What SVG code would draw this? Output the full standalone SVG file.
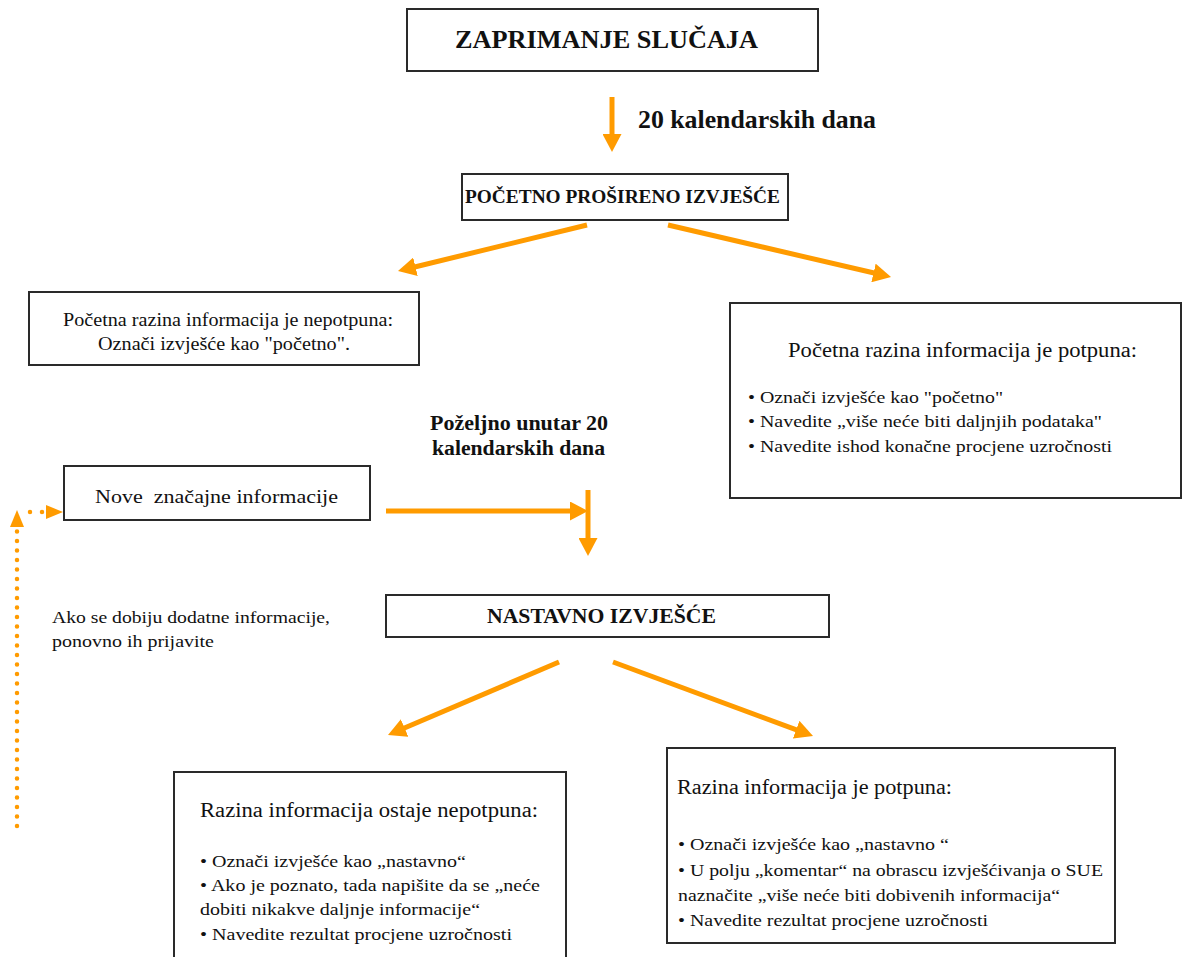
<svg xmlns="http://www.w3.org/2000/svg" width="1187" height="957" viewBox="0 0 1187 957">
<defs>
<marker id="ah" markerUnits="userSpaceOnUse" markerWidth="18" markerHeight="19" viewBox="0 0 18 19" refX="4" refY="9.5" orient="auto"><path d="M0,0 L18,9.5 L0,19 z" fill="#FF9B00"/></marker>
<marker id="ahs" markerUnits="userSpaceOnUse" markerWidth="17" markerHeight="14" viewBox="0 0 17 14" refX="2" refY="7" orient="auto"><path d="M0,0 L17,7 L0,14 z" fill="#FF9B00"/></marker>
<style>
.box{fill:#fff;stroke:#2a2a2a;stroke-width:2}
.t{font-family:"Liberation Serif","Times New Roman",serif;fill:#111}
.b{font-weight:bold}
.r{font-size:17.5px}
.h{font-size:20px}
.con{stroke:#FF9B00;stroke-width:5;fill:none}
.dot{stroke:#FF9B00;stroke-width:4.5;stroke-linecap:round;fill:none}
</style>
</defs>

<g id="connectors">
<line class="con" x1="612" y1="97" x2="612" y2="138" marker-end="url(#ah)"/>
<line class="con" x1="587" y1="225" x2="411.6" y2="267.7" marker-end="url(#ah)"/>
<line class="con" x1="668" y1="225" x2="877.4" y2="273.8" marker-end="url(#ah)"/>
<line class="con" x1="386" y1="511" x2="574" y2="511" marker-end="url(#ah)"/>
<line class="con" x1="588" y1="490" x2="588" y2="542" marker-end="url(#ah)"/>
<line class="con" x1="559" y1="662" x2="400.9" y2="729.5" marker-end="url(#ah)"/>
<line class="con" x1="613" y1="662" x2="799.9" y2="731.1" marker-end="url(#ah)"/>
<path class="dot" d="M17,826 L17,525" stroke-dasharray="0 9.5" marker-end="url(#ahs)"/>
<path class="dot" d="M30,512 L48,512" stroke-dasharray="0 12" marker-end="url(#ahs)"/>
</g>

<g id="label-20-dana">
<text class="t b" x="638" y="128" font-size="25.8">20 kalendarskih dana</text>
</g>
<g id="label-pozeljno">
<text class="t b" x="430" y="430" font-size="22">Poželjno unutar 20</text>
<text class="t b" x="432" y="455" font-size="21.7">kalendarskih dana</text>
</g>
<g id="label-ako">
<text class="t r" x="52" y="623" textLength="278" lengthAdjust="spacingAndGlyphs">Ako se dobiju dodatne informacije,</text>
<text class="t r" x="52" y="647" textLength="162" lengthAdjust="spacingAndGlyphs">ponovno ih prijavite</text>
</g>

<g id="zaprimanje">
<rect class="box" x="407" y="9" width="411" height="62"/>
<text class="t b" x="455" y="48" font-size="26" textLength="303" lengthAdjust="spacingAndGlyphs">ZAPRIMANJE SLUČAJA</text>
</g>

<g id="pocetno">
<rect class="box" x="462" y="174" width="326" height="46"/>
<text class="t b" x="465" y="203" font-size="19.4" textLength="315" lengthAdjust="spacingAndGlyphs">POČETNO PROŠIRENO IZVJEŠĆE</text>
</g>

<g id="nepotpuna">
<rect class="box" x="29" y="292" width="390" height="73"/>
<text class="t" x="63" y="326" font-size="18" textLength="330" lengthAdjust="spacingAndGlyphs">Početna razina informacija je nepotpuna:</text>
<text class="t" x="98" y="350" font-size="18" textLength="252" lengthAdjust="spacingAndGlyphs">Označi izvješće kao "početno".</text>
</g>

<g id="potpuna">
<rect class="box" x="730" y="303" width="451" height="195"/>
<text class="t h" x="788" y="357" textLength="349" lengthAdjust="spacingAndGlyphs">Početna razina informacija je potpuna:</text>
<text class="t r" x="748" y="403" textLength="255" lengthAdjust="spacingAndGlyphs">• Označi izvješće kao "početno"</text>
<text class="t r" x="748" y="427" textLength="354" lengthAdjust="spacingAndGlyphs">• Navedite „više neće biti daljnjih podataka"</text>
<text class="t r" x="748" y="452" textLength="364" lengthAdjust="spacingAndGlyphs">• Navedite ishod konačne procjene uzročnosti</text>
</g>

<g id="nove">
<rect class="box" x="64" y="466" width="306" height="54"/>
<text class="t" x="95" y="503" font-size="19.5" textLength="243" lengthAdjust="spacingAndGlyphs" xml:space="preserve">Nove  značajne informacije</text>
</g>

<g id="nastavno">
<rect class="box" x="386" y="595" width="443" height="42"/>
<text class="t b" x="487" y="623" font-size="21.3" textLength="229" lengthAdjust="spacingAndGlyphs">NASTAVNO IZVJEŠĆE</text>
</g>

<g id="ostaje-nepotpuna">
<rect class="box" x="174" y="772" width="392" height="200"/>
<text class="t h" x="200" y="817" textLength="338" lengthAdjust="spacingAndGlyphs">Razina informacija ostaje nepotpuna:</text>
<text class="t r" x="200" y="867" textLength="266" lengthAdjust="spacingAndGlyphs">• Označi izvješće kao „nastavno“</text>
<text class="t r" x="200" y="891" textLength="340" lengthAdjust="spacingAndGlyphs">• Ako je poznato, tada napišite da se „neće</text>
<text class="t r" x="200" y="915" textLength="280" lengthAdjust="spacingAndGlyphs">dobiti nikakve daljnje informacije“</text>
<text class="t r" x="200" y="940" textLength="312" lengthAdjust="spacingAndGlyphs">• Navedite rezultat procjene uzročnosti</text>
</g>

<g id="je-potpuna">
<rect class="box" x="667" y="748" width="448" height="195"/>
<text class="t h" x="677" y="794" textLength="275" lengthAdjust="spacingAndGlyphs">Razina informacija je potpuna:</text>
<text class="t r" x="678" y="850" textLength="271" lengthAdjust="spacingAndGlyphs" xml:space="preserve">• Označi izvješće kao „nastavno “</text>
<text class="t r" x="678" y="876" textLength="425" lengthAdjust="spacingAndGlyphs">• U polju „komentar“ na obrascu izvješćivanja o SUE</text>
<text class="t r" x="678" y="901" textLength="382" lengthAdjust="spacingAndGlyphs">naznačite „više neće biti dobivenih informacija“</text>
<text class="t r" x="678" y="926" textLength="310" lengthAdjust="spacingAndGlyphs">• Navedite rezultat procjene uzročnosti</text>
</g>
</svg>
